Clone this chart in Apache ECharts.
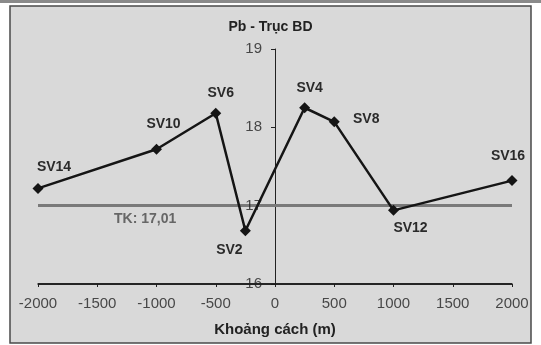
<!DOCTYPE html>
<html>
<head>
<meta charset="utf-8">
<script src="https://cdn.jsdelivr.net/npm/echarts@6/dist/echarts.min.js"></script>
<style>
html,body{margin:0;padding:0;background:#fff;}
#c{width:541px;height:345px;}
</style>
</head>
<body>
<div id="c"></div>
<script>
// ---- data ----
const stationNames = ['SV14','SV10','SV6','SV2','SV4','SV8','SV12','SV16'];
const distances = [-2000,-1000,-500,-250,250,500,1000,2000];
const pbValues = [17.22,17.72,18.18,16.68,18.25,18.07,16.94,17.32];
const tkValue = 17.01;
const tkLabel = 'TK: 17,01';
const xTicks = [-2000,-1500,-1000,-500,0,500,1000,1500,2000];
const yTicks = [16,17,18,19];
const titleText = 'Pb - Trục BD';
const xAxisTitle = 'Khoảng cách (m)';

// ---- label placement (style) ----
const labelOffsets = {
  SV14:[16,-21], SV10:[7,-25], SV6:[5,-20], SV2:[-16,19],
  SV4:[5,-20], SV8:[32,-3], SV12:[17,18], SV16:[-4,-24]
};

const chart = echarts.init(document.getElementById('c'));
const font = 'Liberation Sans, Arial, sans-serif';
const xMin = xTicks[0], xMax = xTicks[xTicks.length-1];
const yMin = yTicks[0], yMax = yTicks[yTicks.length-1];
const seriesData = distances.map((d,i)=>({
  value:[d,pbValues[i]],
  name:stationNames[i],
  label:{offset:labelOffsets[stationNames[i]]}
}));
const yLabelData = yTicks.map(v=>[0,v]);
const xLabelData = xTicks.map(v=>[v,yMin]);

chart.setOption({
  backgroundColor:'#ffffff',
  animation:false,
  graphic:[
    {type:'rect',z:-10,shape:{x:0,y:0,width:541,height:3},style:{fill:'#8a8a8a'}},
    {type:'rect',z:-10,shape:{x:10,y:6,width:521,height:337},style:{fill:'#d9d9d9',stroke:'#4a4a4a',lineWidth:1.5}}
  ],
  title:{
    text:titleText,left:'center',top:15,
    textStyle:{fontFamily:font,fontSize:14,fontWeight:'bold',color:'#222'}
  },
  grid:{left:38,right:29,top:49,bottom:61},
  xAxis:{
    type:'value',min:xMin,max:xMax,interval:500,
    name:xAxisTitle,nameLocation:'middle',nameGap:38,
    nameTextStyle:{fontFamily:font,fontSize:15,fontWeight:'bold',color:'#222'},
    axisLine:{show:true,onZero:false,lineStyle:{color:'#1a1a1a',width:1.5}},
    axisTick:{show:true,length:3,lineStyle:{color:'#222'}},
    axisLabel:{show:false},
    splitLine:{show:false}
  },
  yAxis:{
    type:'value',min:yMin,max:yMax,interval:1,
    axisLine:{show:true,onZero:true,lineStyle:{color:'#222',width:1}},
    axisTick:{show:true,length:4,lineStyle:{color:'#222'}},
    axisLabel:{show:false},
    splitLine:{show:false}
  },
  series:[{
    type:'line',
    data:[[xMin,yMin],[xMax,yMin]],
    symbol:'none',clip:false,silent:true,z:4,
    lineStyle:{color:'#1a1a1a',width:1.6}
  },{
    type:'line',
    data:seriesData,
    symbol:'diamond',symbolSize:11,
    lineStyle:{color:'#151515',width:2.5},
    itemStyle:{color:'#151515'},
    z:5,
    label:{
      show:true,position:'inside',formatter:p=>p.name,
      fontFamily:font,fontSize:14,fontWeight:'bold',color:'#2a2a2a',
      align:'center',verticalAlign:'middle'
    },
    markLine:{
      silent:true,symbol:['none','none'],z:3,
      lineStyle:{color:'#7a7a7a',width:3,type:'solid'},
      label:{
        show:true,position:'insideStartBottom',formatter:tkLabel,distance:[76,7],
        fontFamily:font,fontSize:14,fontWeight:'bold',color:'#666'
      },
      data:[[{coord:[xMin,tkValue]},{coord:[xMax,tkValue]}]]
    }
  },{
    type:'scatter',
    data:yLabelData,
    symbolSize:0,silent:true,clip:false,z:4,
    label:{
      show:true,position:'left',distance:13,formatter:p=>String(p.value[1]),
      fontFamily:font,fontSize:15,color:'#222'
    }
  },{
    type:'scatter',
    data:xLabelData,
    symbolSize:0,silent:true,clip:false,z:4,
    label:{
      show:true,position:'bottom',distance:12,formatter:p=>String(p.value[0]),
      fontFamily:font,fontSize:15,color:'#222'
    }
  }]
});
</script>
</body>
</html>
